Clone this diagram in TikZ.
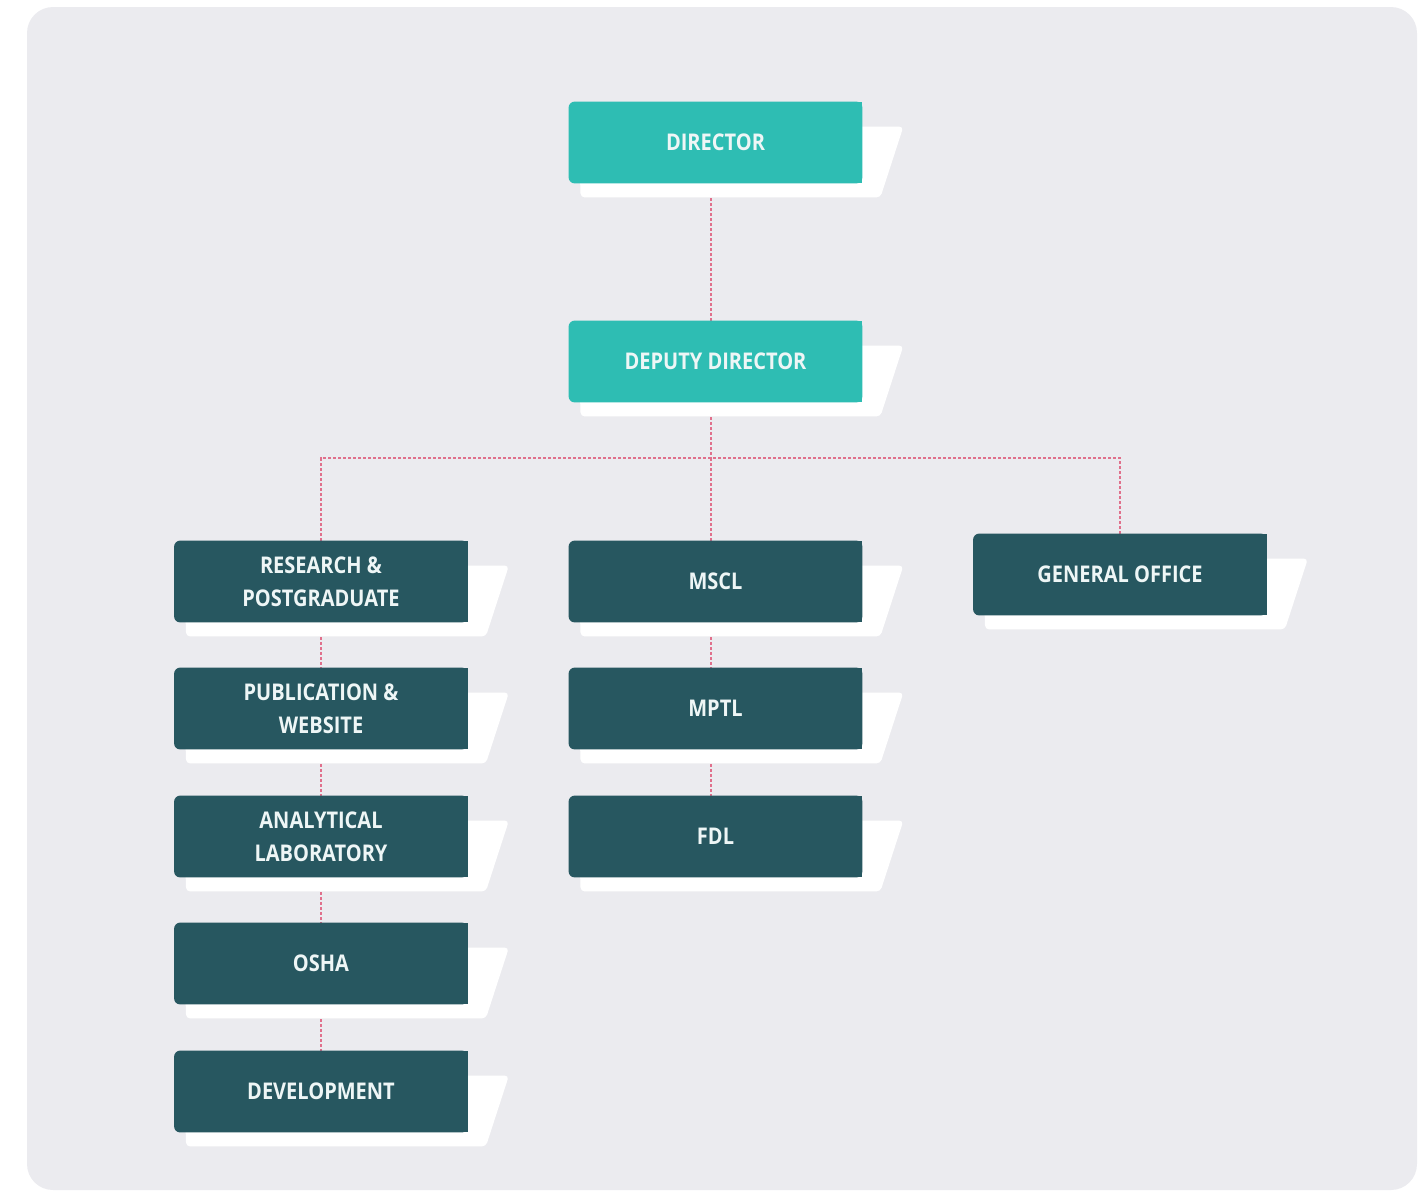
\documentclass[tikz,border=0pt]{standalone}
\usepackage{fontspec}
\newfontfamily\orgfont{Open Sans}[FakeStretch=0.87]
\usetikzlibrary{calc,backgrounds}
\definecolor{panel}{HTML}{EBEBEF}
\definecolor{headteal}{HTML}{2EBDB3}
\definecolor{unitdark}{HTML}{275760}
\definecolor{linkpink}{HTML}{E0708C}
\definecolor{labelwhite}{HTML}{EEF6F6}
\tikzset{
	post/.style={minimum width=146.5pt, minimum height=40.5pt, inner sep=0pt, align=center,
		text=labelwhite, font=\orgfont\bfseries\fontsize{11.5}{16.5}\selectfont},
	link/.style={linkpink, line width=0.8pt, dash pattern=on 1.5pt off 1pt},
}

\begin{document}
\begin{tikzpicture}[x=0.5pt,y=-0.5pt]
	\useasboundingbox (0,0) rectangle (1423,1190);
	% heads
	\node[post] (dir) at (715.5,142.5) {DIRECTOR};
	\node[post] (dep) at (715.5,361.5) {DEPUTY DIRECTOR};
	% left column
	\node[post] (res) at (321,581.5) {RESEARCH \&\\POSTGRADUATE};
	\node[post] (pub) at (321,708.5) {PUBLICATION \&\\WEBSITE};
	\node[post] (ana) at (321,836.5) {ANALYTICAL\\LABORATORY};
	\node[post] (osha) at (321,963.5) {OSHA};
	\node[post] (dev) at (321,1091.5) {DEVELOPMENT};
	% middle column
	\node[post] (mscl) at (715.5,581.5) {MSCL};
	\node[post] (mptl) at (715.5,708.5) {MPTL};
	\node[post] (fdl) at (715.5,836.5) {FDL};
	% right column
	\node[post] (gen) at (1120,574.5) {GENERAL OFFICE};
	\coordinate (bus) at (711,458);

	\begin{pgfonlayer}{background}
	\fill[panel, rounded corners=13pt] (27,7) rectangle (1417,1190);
	% dashed links, middle ones sit a little left of centre
	\draw[link] ([xshift=-2.25pt]dir.south) -- ([xshift=-2.25pt]dep.north);
	\draw[link] ([xshift=-2.25pt]dep.south) -- (bus);
	\draw[link] (res.north) |- (bus) -| (gen.north);
	\draw[link] (bus) -- ([xshift=-2.25pt]mscl.north);
	\draw[link] (res.south) -- (pub.north);
	\draw[link] (pub.south) -- (ana.north);
	\draw[link] (ana.south) -- (osha.north);
	\draw[link] (osha.south) -- (dev.north);
	\draw[link] ([xshift=-2.25pt]mscl.south) -- ([xshift=-2.25pt]mptl.north);
	\draw[link] ([xshift=-2.25pt]mptl.south) -- ([xshift=-2.25pt]fdl.north);
	% white slanted shadow, then the box
	\foreach \n/\col in {dir/headteal, dep/headteal, res/unitdark, pub/unitdark, ana/unitdark,
		osha/unitdark, dev/unitdark, mscl/unitdark, mptl/unitdark, fdl/unitdark, gen/unitdark} {
		\fill[white, rounded corners=2pt] ($(\n.north west)+(10,25)$) -- ($(\n.north east)+(41,25)$)
			-- ($(\n.south east)+(18,14)$) -- ($(\n.south west)+(12,14)$) -- cycle;
		\fill[\col, rounded corners=3pt] (\n.north west) rectangle (\n.south east);
		\fill[\col] (\n.north) rectangle (\n.south east);
	}
	\end{pgfonlayer}
\end{tikzpicture}
\end{document}
